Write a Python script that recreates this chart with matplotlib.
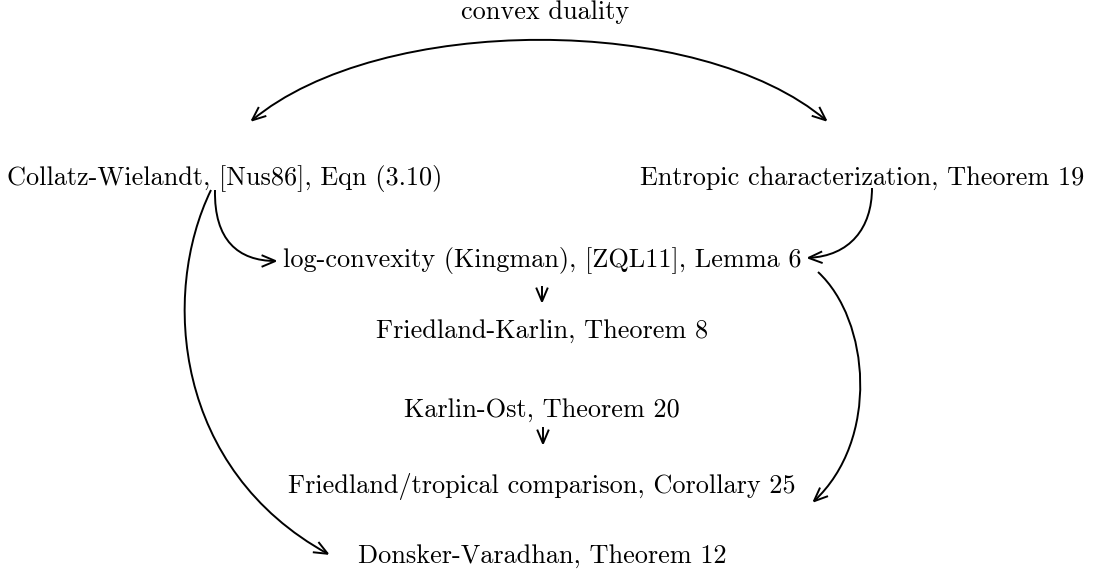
import matplotlib
matplotlib.use("Agg")
import matplotlib.pyplot as plt
from matplotlib.patches import FancyArrowPatch
from matplotlib.path import Path

plt.rcParams['font.family'] = ['cmr10', 'DejaVu Serif']
plt.rcParams['axes.unicode_minus'] = False

# Node labels
labels = [
    "convex duality",
    "Collatz-Wielandt, [Nus86], Eqn (3.10)",
    "Entropic characterization, Theorem 19",
    "log-convexity (Kingman), [ZQL11], Lemma 6",
    "Friedland-Karlin, Theorem 8",
    "Karlin-Ost, Theorem 20",
    "Friedland/tropical comparison, Corollary 25",
    "Donsker-Varadhan, Theorem 12",
]
# node positions (pixel layout)
node_x = [545, 225, 862, 542, 542, 542, 542, 542]
node_y = [12, 178, 178, 261, 331, 410, 486, 556]

# edges as cubic bezier control points (pixel layout) and arrow style
edges = [
    ([(250, 122), (380, 13), (700, 13), (828, 122)], '<->'),
    ([(215, 190), (214, 240), (238, 261), (278, 261)], '->'),
    ([(211, 190), (160, 295), (175, 470), (330, 555)], '->'),
    ([(872, 188), (872, 228), (850, 256), (806, 258)], '->'),
    ([(818, 272), (870, 320), (880, 440), (812, 503)], '->'),
    ([(542, 286), (542, 292), (542, 298), (542, 304)], '->'),
    ([(543, 427), (543, 433), (543, 439), (543, 446)], '->'),
]

W, H = 1095, 581
fig = plt.figure(figsize=(W / 100, H / 100), dpi=100)
ax = fig.add_axes([0, 0, 1, 1])
ax.set_xlim(0, W)
ax.set_ylim(H, 0)
ax.axis('off')

for lab, x, y in zip(labels, node_x, node_y):
    ax.text(x, y, lab, ha='center', va='center', fontsize=18.9, color='black')

for pts, style in edges:
    path = Path(pts, [Path.MOVETO, Path.CURVE4, Path.CURVE4, Path.CURVE4])
    arr = FancyArrowPatch(path=path,
                          arrowstyle=style + ',head_length=1.0,head_width=0.42',
                          mutation_scale=10,
                          lw=1.4, color='black', shrinkA=0, shrinkB=0,
                          joinstyle='miter', capstyle='butt')
    ax.add_patch(arr)

fig.savefig('out.png', dpi=100, facecolor='white')
